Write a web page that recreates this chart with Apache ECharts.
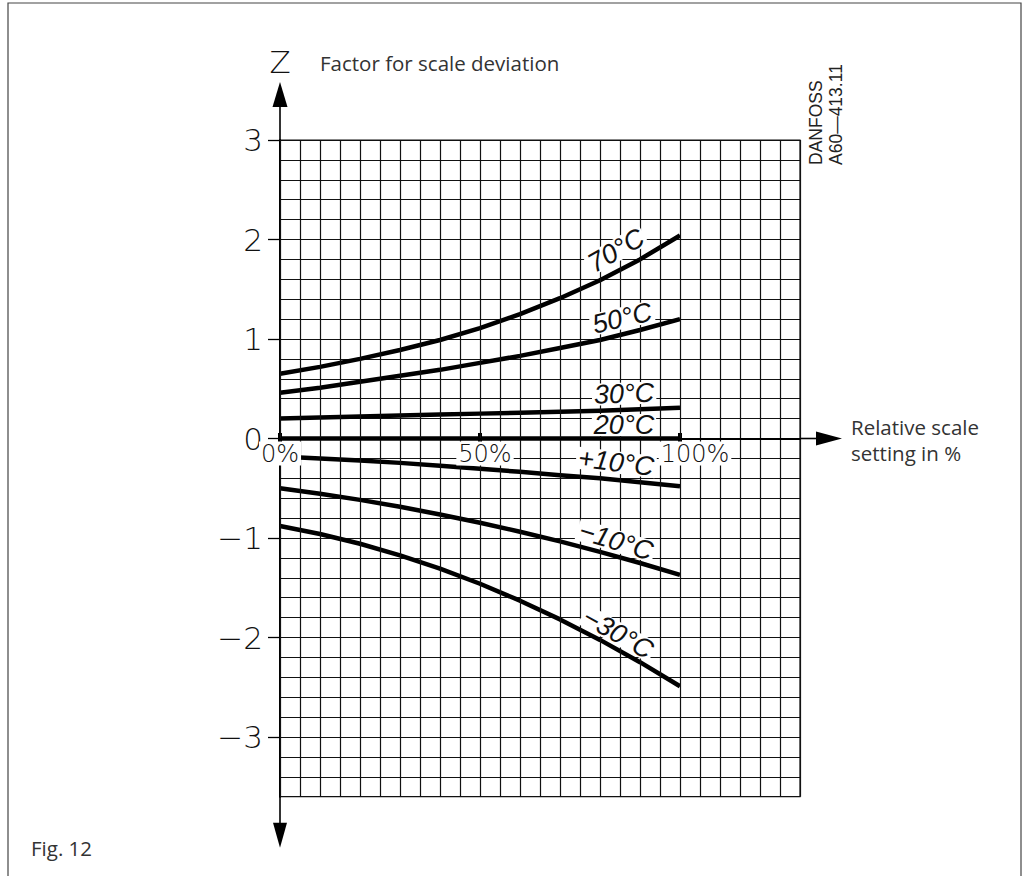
<!DOCTYPE html>
<html><head><meta charset="utf-8">
<script src="https://cdn.jsdelivr.net/npm/echarts@6/dist/echarts.min.js"></script>
<style>html,body{margin:0;padding:0;background:#fff;} #c{width:1027px;height:876px;}</style>
</head><body><div id="c"></div>
<script>
// ---- data ----
const xPct = [0, 10, 20, 30, 40, 50, 60, 70, 80, 90, 100];
const z70  = [0.65, 0.72, 0.80, 0.89, 0.99, 1.11, 1.25, 1.41, 1.59, 1.80, 2.04];
const z50  = [0.46, 0.51, 0.57, 0.63, 0.69, 0.76, 0.83, 0.91, 0.99, 1.09, 1.20];
const z30  = [0.20, 0.21, 0.22, 0.23, 0.24, 0.25, 0.26, 0.27, 0.28, 0.295, 0.31];
const x20  = [0, 50, 100];
const z20  = [0, 0, 0];
const zP10 = [-0.18, -0.20, -0.22, -0.245, -0.275, -0.305, -0.335, -0.37, -0.40, -0.44, -0.48];
const zM10 = [-0.50, -0.555, -0.617, -0.686, -0.763, -0.846, -0.937, -1.034, -1.139, -1.251, -1.37];
const zM30 = [-0.88, -0.96, -1.058, -1.174, -1.308, -1.46, -1.63, -1.818, -2.024, -2.248, -2.49];
const yTickValues = [-3, -2, -1, 0, 1, 2, 3];
const xTickValues = [0, 50, 100];
const curveNames = ['70°C', '50°C', '30°C', '20°C', '+10°C', '−10°C', '−30°C'];

// ---- layout of curve labels (data-space anchor + rotation) ----
const labelLayout = [
  {x: 84,   z: 1.89,  rot: 30},
  {x: 85.5, z: 1.21,  rot: 13},
  {x: 86,   z: 0.45,  rot: 2},
  {x: 86,   z: 0.135, rot: 0},
  {x: 84,   z: -0.24, rot: -7},
  {x: 84,   z: -1.03, rot: -17},
  {x: 84.5, z: -1.96, rot: -29}
];

const curveData = [z70, z50, z30, null, zP10, zM10, zM30];
const LINE = '#111';
const thinFont = '"DejaVu Sans", "Liberation Sans", sans-serif';
const curveFont = '"Liberation Sans", Arial, sans-serif';
const Y_MIN = -3.6, Y_MAX = 3, X_MIN = 0, X_MAX = 130;

const series = curveNames.map((name, i) => {
  const isZero = curveData[i] === null;
  const data = isZero ? x20.map((x, k) => [x, z20[k]]) : xPct.map((x, k) => [x, curveData[i][k]]);
  const L = labelLayout[i];
  return {
    type: 'line', name, yAxisIndex: 0,
    data,
    smooth: false,
    showSymbol: isZero,
    symbol: 'rect',
    symbolSize: [4, 11],
    itemStyle: {color: '#000'},
    lineStyle: {color: '#000', width: 4.5, join: 'round'},
    z: 2,
    markPoint: {
      symbol: 'circle', symbolSize: 0, silent: true, z: 6,
      data: [{coord: [L.x, L.z], name}],
      label: {
        show: true, position: 'inside', formatter: name, rotate: L.rot,
        color: '#111', fontSize: 27, fontStyle: 'italic', fontWeight: 'normal',
        fontFamily: curveFont, backgroundColor: '#fff', padding: [0, 2], lineHeight: 22
      }
    }
  };
});

const chart = echarts.init(document.getElementById('c'), null, {renderer: 'svg'});
const gridH = 656.7;
chart.setOption({
  animation: false,
  backgroundColor: '#fff',
  grid: {left: 280, top: 140, width: 520, height: gridH, show: true, borderColor: LINE, borderWidth: 1.2, containLabel: false},
  xAxis: {
    type: 'value', min: X_MIN, max: X_MAX, interval: 5, z: 4, position: 'bottom',
    offset: -gridH * (0 - Y_MIN) / (Y_MAX - Y_MIN),
    axisLine: {onZero: false, lineStyle: {color: '#000', width: 1.8}},
    axisTick: {show: false},
    splitLine: {show: true, lineStyle: {color: LINE, width: 1.2}},
    axisLabel: {
      customValues: xTickValues, margin: 5,
      formatter: v => v === 0 ? '{t|0%}' : (v === 50 ? '{p1| }{t|50%}' : '{p2| }{t|100%}'),
      rich: {
        t: {fontSize: 24, fontWeight: 200, color: '#111', fontFamily: thinFont, backgroundColor: '#fff', padding: [0, 2], lineHeight: 20},
        p1: {width: 10, lineHeight: 20}, p2: {width: 30, lineHeight: 20}
      }
    }
  },
  yAxis: [{
    type: 'value', min: Y_MIN, max: Y_MAX, interval: 0.2, position: 'left',
    axisLine: {show: true, onZero: false, lineStyle: {color: '#000', width: 2}},
    axisTick: {show: false},
    axisLabel: {show: false},
    splitLine: {show: true, lineStyle: {color: LINE, width: 1.2}}
  }, {
    type: 'value', min: Y_MIN, max: Y_MAX, interval: 0.2, position: 'left', offset: 0,
    axisLine: {show: false, onZero: false},
    axisTick: {show: true, customValues: yTickValues, length: 12, lineStyle: {color: '#000', width: 1.3}},
    splitLine: {show: false},
    axisLabel: {
      customValues: yTickValues, margin: 17, color: '#111', fontSize: 31,
      fontFamily: thinFont, fontWeight: 200,
      formatter: v => v < 0 ? '−' + (-v) : String(v)
    }
  }],
  series
});

// decorations: axis extensions with arrows, frame, titles
const p = (x, y) => chart.convertToPixel({gridIndex: 0}, [x, y]);
const [gx0, gyTop] = p(X_MIN, Y_MAX);
const gyBot = p(X_MIN, Y_MIN)[1];
const [gxR, gy0] = p(X_MAX, 0);
const blk = {fill: '#000'};
const txt = '"Open Sans", "Noto Sans", sans-serif';
chart.setOption({
  graphic: [
    {type: 'rect', shape: {x: 8, y: 3, width: 1013, height: 900}, style: {fill: 'none', stroke: '#444', lineWidth: 1.2}, silent: true},
    {type: 'line', shape: {x1: gx0, y1: gyTop, x2: gx0, y2: gyTop - 36}, style: {stroke: '#000', lineWidth: 1.6}},
    {type: 'polygon', shape: {points: [[gx0, gyTop - 58], [gx0 - 7.5, gyTop - 33], [gx0 + 7.5, gyTop - 33]]}, style: blk},
    {type: 'line', shape: {x1: gx0, y1: gyBot, x2: gx0, y2: gyBot + 28}, style: {stroke: '#000', lineWidth: 1.6}},
    {type: 'polygon', shape: {points: [[gx0 - 7, gyBot + 26], [gx0 + 7, gyBot + 26], [gx0, gyBot + 51]]}, style: blk},
    {type: 'line', shape: {x1: gxR, y1: gy0, x2: gxR + 18, y2: gy0}, style: {stroke: '#000', lineWidth: 1.6}},
    {type: 'polygon', shape: {points: [[gxR + 16, gy0 - 7], [gxR + 16, gy0 + 7], [gxR + 42, gy0]]}, style: blk},
    {type: 'text', x: gx0, y: 62, style: {text: 'Z', font: '200 31px ' + thinFont, fill: '#111', align: 'center', verticalAlign: 'middle'}},
    {type: 'text', x: 320, y: 63, style: {text: 'Factor for scale deviation', font: '20.5px ' + txt, fill: '#333', align: 'left', verticalAlign: 'middle'}},
    {type: 'text', x: 851, y: 440, style: {text: 'Relative scale\nsetting in %', font: '20.5px ' + txt, lineHeight: 26, fill: '#333', align: 'left', verticalAlign: 'middle'}},
    {type: 'text', x: 31, y: 848, style: {text: 'Fig. 12', font: '20.5px ' + txt, fill: '#333', align: 'left', verticalAlign: 'middle'}},
    {type: 'text', x: 816, y: 165, rotation: Math.PI / 2, style: {text: 'DANFOSS', font: '17.5px "Liberation Sans", sans-serif', fill: '#222', align: 'left', verticalAlign: 'middle'}},
    {type: 'text', x: 836, y: 165, rotation: Math.PI / 2, style: {text: 'A60—413.11', font: '17.5px "Liberation Sans", sans-serif', fill: '#222', align: 'left', verticalAlign: 'middle'}}
  ]
});
</script></body></html>
